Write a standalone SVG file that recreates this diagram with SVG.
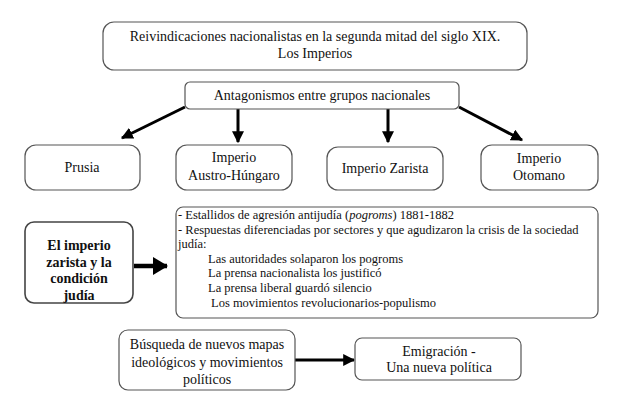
<svg xmlns="http://www.w3.org/2000/svg" width="633" height="405" viewBox="0 0 633 405" font-family="'Liberation Serif', 'Times New Roman', 'DejaVu Serif', serif">
<style>
.box{fill:#fff;stroke:#555;stroke-width:1.2}
.bold-box{fill:#fff;stroke:#444;stroke-width:1.6}
text{font-size:14px;fill:#111}
.c{text-anchor:middle}
.b{font-weight:bold}
.s{font-size:12.5px}
.con{stroke:#000;stroke-width:3;fill:none}
</style>
<defs>
<marker id="ah" markerWidth="4" markerHeight="4" refX="3.6" refY="2" orient="auto" markerUnits="strokeWidth">
<path d="M0,0 L4,2 L0,4 Z" fill="#000"/>
</marker>
<marker id="ah2" markerWidth="15" markerHeight="18" refX="14" refY="9" orient="auto" markerUnits="userSpaceOnUse">
<path d="M0,0 L15,9 L0,18 Z" fill="#000"/>
</marker>
</defs>
<g id="connectors">
<line class="con" x1="185" y1="107" x2="122" y2="138" marker-end="url(#ah)"/>
<line class="con" x1="238" y1="109" x2="238" y2="142" marker-end="url(#ah)"/>
<line class="con" x1="388" y1="109" x2="388" y2="142" marker-end="url(#ah)"/>
<line class="con" x1="459" y1="107" x2="522" y2="140" marker-end="url(#ah)"/>
<line class="con" x1="134" y1="266" x2="167" y2="266" style="stroke-width:4.5" marker-end="url(#ah2)"/>
<line class="con" x1="295" y1="360" x2="354" y2="360" marker-end="url(#ah)"/>
</g>
<g id="title">
<rect class="box" x="103" y="22" width="424" height="48" rx="11"/>
<text class="c" x="315" y="41">Reivindicaciones nacionalistas en la segunda mitad del siglo XIX.</text>
<text class="c" x="315" y="58">Los Imperios</text>
</g>
<g id="antagonismos">
<rect class="box" x="185" y="82" width="274" height="27" rx="5"/>
<text class="c" x="322" y="100">Antagonismos entre grupos nacionales</text>
</g>
<g id="prusia">
<rect class="box" x="25" y="145" width="115" height="45" rx="11"/>
<text class="c" x="82" y="172">Prusia</text>
</g>
<g id="austro">
<rect class="box" x="176" y="145" width="116" height="45" rx="11"/>
<text class="c" x="234" y="162">Imperio</text>
<text class="c" x="234" y="180">Austro-Húngaro</text>
</g>
<g id="zarista">
<rect class="box" x="327" y="147" width="116" height="43" rx="11"/>
<text class="c" x="385" y="173">Imperio Zarista</text>
</g>
<g id="otomano">
<rect class="box" x="481" y="145" width="117" height="45" rx="11"/>
<text class="c" x="539" y="163">Imperio</text>
<text class="c" x="539" y="180">Otomano</text>
</g>
<g id="condicion">
<rect class="bold-box" x="25" y="222" width="108" height="81" rx="9"/>
<text class="c b" x="79" y="250">El imperio</text>
<text class="c b" x="79" y="267">zarista y la</text>
<text class="c b" x="79" y="283">condición</text>
<text class="c b" x="79" y="300">judía</text>
</g>
<g id="detalle">
<rect class="box" x="176" y="207" width="422" height="111" rx="7"/>
<text class="s" x="178" y="219">- Estallidos de agresión antijudía (<tspan font-style="italic">pogroms</tspan>) 1881-1882</text>
<text class="s" x="178" y="234">- Respuestas diferenciadas por sectores y que agudizaron la crisis de la sociedad</text>
<text class="s" x="178" y="248">judía:</text>
<text class="s" x="208" y="263">Las autoridades solaparon los pogroms</text>
<text class="s" x="208" y="277">La prensa nacionalista los justificó</text>
<text class="s" x="208" y="292">La prensa liberal guardó silencio</text>
<text class="s" x="211" y="307">Los movimientos revolucionarios-populismo</text>
</g>
<g id="busqueda">
<rect class="box" x="119" y="330" width="176" height="60" rx="9"/>
<text class="c" x="207" y="349">Búsqueda de nuevos mapas</text>
<text class="c" x="207" y="367">ideológicos y movimientos</text>
<text class="c" x="207" y="384">políticos</text>
</g>
<g id="emigracion">
<rect class="box" x="355" y="338" width="166" height="42" rx="7"/>
<text class="c" x="439" y="356">Emigración -</text>
<text class="c" x="439" y="372">Una nueva política</text>
</g>
</svg>
